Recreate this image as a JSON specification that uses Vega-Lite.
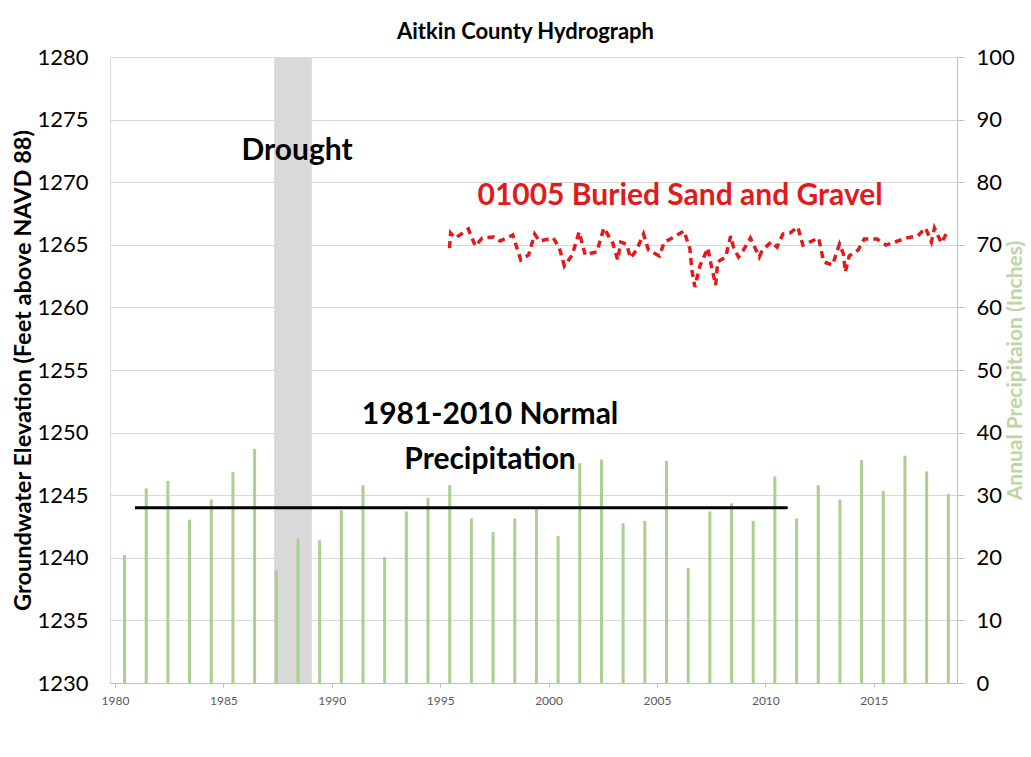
{
  "$schema": "https://vega.github.io/schema/vega-lite/v6.json",
  "width": 847,
  "height": 626,
  "autosize": {"type": "none"},
  "padding": {"left": 110, "top": 57, "right": 74, "bottom": 74},
  "background": "white",
  "title": {"text": "Aitkin County Hydrograph", "font": "Lato", "fontSize": 22, "fontWeight": "bold", "color": "#000000", "anchor": "middle", "offset": 2, "dx": -8},
  "config": {"view": {"stroke": null}, "font": "Lato"},
  "datasets": {
    "drought": [{"year": 1987.34, "year2": 1989.08}],
    "precip": [
      {"year": 1980.44, "precip": 20.4}, {"year": 1981.44, "precip": 31.1}, {"year": 1982.44, "precip": 32.3},
      {"year": 1983.44, "precip": 26.1}, {"year": 1984.44, "precip": 29.3}, {"year": 1985.44, "precip": 33.7},
      {"year": 1986.44, "precip": 37.4}, {"year": 1987.44, "precip": 18.0}, {"year": 1988.44, "precip": 23.1},
      {"year": 1989.44, "precip": 22.8}, {"year": 1990.44, "precip": 27.6}, {"year": 1991.44, "precip": 31.6},
      {"year": 1992.44, "precip": 20.1}, {"year": 1993.44, "precip": 27.4}, {"year": 1994.44, "precip": 29.6},
      {"year": 1995.44, "precip": 31.6}, {"year": 1996.44, "precip": 26.3}, {"year": 1997.44, "precip": 24.1},
      {"year": 1998.44, "precip": 26.3}, {"year": 1999.44, "precip": 28.1}, {"year": 2000.44, "precip": 23.5},
      {"year": 2001.44, "precip": 35.1}, {"year": 2002.44, "precip": 35.7}, {"year": 2003.44, "precip": 25.5},
      {"year": 2004.44, "precip": 25.9}, {"year": 2005.44, "precip": 35.5}, {"year": 2006.44, "precip": 18.4},
      {"year": 2007.44, "precip": 27.4}, {"year": 2008.44, "precip": 28.7}, {"year": 2009.44, "precip": 25.9},
      {"year": 2010.44, "precip": 33.0}, {"year": 2011.44, "precip": 26.3}, {"year": 2012.44, "precip": 31.6},
      {"year": 2013.44, "precip": 29.3}, {"year": 2014.44, "precip": 35.6}, {"year": 2015.44, "precip": 30.7},
      {"year": 2016.44, "precip": 36.3}, {"year": 2017.44, "precip": 33.8}, {"year": 2018.44, "precip": 30.2}
    ],
    "normal": [{"year": 1980.92, "year2": 2011.03, "precip": 28.0}],
    "gw": [
      {"year": 1995.43, "elev": 1264.74}, {"year": 1995.48, "elev": 1265.94}, {"year": 1995.70, "elev": 1265.54},
      {"year": 1996.30, "elev": 1266.26}, {"year": 1996.62, "elev": 1264.90}, {"year": 1996.94, "elev": 1265.54},
      {"year": 1997.48, "elev": 1265.62}, {"year": 1997.76, "elev": 1265.30}, {"year": 1998.35, "elev": 1265.78},
      {"year": 1998.72, "elev": 1263.79}, {"year": 1999.08, "elev": 1264.19}, {"year": 1999.36, "elev": 1265.86},
      {"year": 1999.58, "elev": 1265.30}, {"year": 2000.22, "elev": 1265.54}, {"year": 2000.50, "elev": 1264.74},
      {"year": 2000.73, "elev": 1263.31}, {"year": 2001.09, "elev": 1264.19}, {"year": 2001.41, "elev": 1266.02},
      {"year": 2001.69, "elev": 1264.19}, {"year": 2002.00, "elev": 1264.35}, {"year": 2002.23, "elev": 1264.43},
      {"year": 2002.55, "elev": 1266.34}, {"year": 2002.96, "elev": 1265.14}, {"year": 2003.19, "elev": 1263.79},
      {"year": 2003.33, "elev": 1265.22}, {"year": 2003.60, "elev": 1265.06}, {"year": 2003.78, "elev": 1263.95},
      {"year": 2004.06, "elev": 1264.58}, {"year": 2004.38, "elev": 1265.86}, {"year": 2004.61, "elev": 1264.58},
      {"year": 2005.11, "elev": 1264.11}, {"year": 2005.34, "elev": 1265.22}, {"year": 2005.70, "elev": 1265.54},
      {"year": 2006.25, "elev": 1266.10}, {"year": 2006.52, "elev": 1264.66}, {"year": 2006.61, "elev": 1262.99},
      {"year": 2006.75, "elev": 1261.63}, {"year": 2006.98, "elev": 1263.31}, {"year": 2007.35, "elev": 1264.74},
      {"year": 2007.48, "elev": 1263.55}, {"year": 2007.71, "elev": 1261.79}, {"year": 2007.80, "elev": 1263.63},
      {"year": 2008.17, "elev": 1264.03}, {"year": 2008.40, "elev": 1265.70}, {"year": 2008.53, "elev": 1264.82},
      {"year": 2008.76, "elev": 1264.03}, {"year": 2008.99, "elev": 1264.58}, {"year": 2009.31, "elev": 1265.54},
      {"year": 2009.72, "elev": 1264.03}, {"year": 2009.86, "elev": 1264.58}, {"year": 2010.27, "elev": 1265.22},
      {"year": 2010.54, "elev": 1264.82}, {"year": 2010.81, "elev": 1265.86}, {"year": 2011.13, "elev": 1265.94},
      {"year": 2011.50, "elev": 1266.42}, {"year": 2011.73, "elev": 1264.98}, {"year": 2012.46, "elev": 1265.54},
      {"year": 2012.69, "elev": 1263.63}, {"year": 2013.10, "elev": 1263.39}, {"year": 2013.42, "elev": 1265.06},
      {"year": 2013.60, "elev": 1264.27}, {"year": 2013.69, "elev": 1262.83}, {"year": 2013.87, "elev": 1264.11},
      {"year": 2014.28, "elev": 1264.58}, {"year": 2014.56, "elev": 1265.46}, {"year": 2015.15, "elev": 1265.46},
      {"year": 2015.56, "elev": 1264.98}, {"year": 2015.97, "elev": 1265.22}, {"year": 2016.48, "elev": 1265.54},
      {"year": 2017.02, "elev": 1265.70}, {"year": 2017.39, "elev": 1266.34}, {"year": 2017.66, "elev": 1265.22},
      {"year": 2017.80, "elev": 1266.34}, {"year": 2018.12, "elev": 1265.14}, {"year": 2018.44, "elev": 1266.18}
    ],
    "annot": [
      {"year": 1988.4, "elev": 1272.49, "label": "Drought"},
      {"year": 1997.3, "elev": 1251.41, "label": "1981-2010 Normal"},
      {"year": 1997.3, "elev": 1247.81, "label": "Precipitation"}
    ],
    "gwlabel": [
      {"year": 2006.07, "elev": 1268.9, "label": "01005 Buried Sand and Gravel"}
    ]
  },
  "encoding": {
    "x": {
      "field": "year",
      "type": "quantitative",
      "scale": {"domain": [1980, 2018.61], "nice": false, "zero": false},
      "axis": {
        "values": [1980, 1985, 1990, 1995, 2000, 2005, 2010, 2015],
        "format": "d",
        "title": null,
        "grid": false,
        "labelFont": "Lato",
        "labelFontSize": 12,
        "labelColor": "#595959",
        "labelPadding": 8,
        "tickSize": 4,
        "tickColor": "#bfbfbf",
        "domainColor": "#bfbfbf"
      }
    }
  },
  "layer": [
    {
      "data": {"name": "drought"},
      "mark": {"type": "rect", "color": "#d9d9d9"},
      "encoding": {"x2": {"field": "year2"}}
    },
    {
      "encoding": {
        "y": {
          "field": "precip",
          "type": "quantitative",
          "scale": {"domain": [0, 100], "nice": false},
          "axis": {
            "orient": "right",
            "values": [0, 10, 20, 30, 40, 50, 60, 70, 80, 90, 100],
            "grid": false,
            "labelFont": "Lato",
            "labelFontSize": 22,
            "labelColor": "#000000",
            "labelPadding": 12,
            "tickSize": 7,
            "tickColor": "#bfbfbf",
            "domainColor": "#bfbfbf",
            "title": "Annual Precipitaion (Inches)",
            "titleFont": "Lato",
            "titleFontSize": 21,
            "titleFontWeight": "bold",
            "titleColor": "#bcd6a4",
            "titleAngle": 270,
            "titlePadding": 11
          }
        }
      },
      "layer": [
        {
          "data": {"name": "precip"},
          "mark": {"type": "bar", "color": "#a9d08e", "size": 3}
        },
        {
          "data": {"name": "normal"},
          "mark": {"type": "rule", "color": "#000000", "strokeWidth": 3},
          "encoding": {"x2": {"field": "year2"}}
        }
      ]
    },
    {
      "encoding": {
        "y": {
          "field": "elev",
          "type": "quantitative",
          "scale": {"domain": [1230, 1280], "nice": false, "zero": false},
          "axis": {
            "orient": "left",
            "values": [1230, 1235, 1240, 1245, 1250, 1255, 1260, 1265, 1270, 1275, 1280],
            "format": "d",
            "grid": true,
            "gridColor": "#d9d9d9",
            "ticks": false,
            "labelFont": "Lato",
            "labelFontSize": 22,
            "labelColor": "#000000",
            "labelPadding": 22,
            "domainColor": "#d9d9d9",
            "title": "Groundwater Elevation (Feet above NAVD 88)",
            "titleFont": "Lato",
            "titleFontSize": 23.5,
            "titleFontWeight": "bold",
            "titleColor": "#000000",
            "titlePadding": 1
          }
        }
      },
      "layer": [
        {
          "data": {"name": "gw"},
          "mark": {"type": "line", "color": "#e31a1c", "strokeWidth": 3.5, "strokeDash": [7, 5]}
        },
        {
          "data": {"name": "annot"},
          "mark": {"type": "text", "font": "Lato", "fontSize": 30, "fontWeight": "bold", "color": "#000000", "align": "center", "baseline": "middle"},
          "encoding": {"text": {"field": "label", "type": "nominal"}}
        },
        {
          "data": {"name": "gwlabel"},
          "mark": {"type": "text", "font": "Lato", "fontSize": 30, "fontWeight": "bold", "color": "#e31a1c", "align": "center", "baseline": "middle"},
          "encoding": {"text": {"field": "label", "type": "nominal"}}
        }
      ]
    }
  ],
  "resolve": {"scale": {"y": "independent"}}
}
